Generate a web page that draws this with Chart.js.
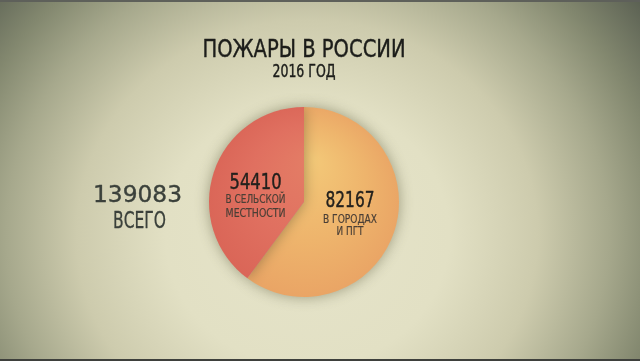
<!DOCTYPE html>
<html>
<head>
<meta charset="utf-8">
<script src="https://cdn.jsdelivr.net/npm/chart.js@4"></script>
<style>
  html, body { margin: 0; padding: 0; }
  body {
    width: 640px; height: 361px; overflow: hidden; position: relative;
    background: radial-gradient(ellipse 355px 330px at 48% 65%, #e6e4ca 0%, #e2e0c4 40%, #cdcbad 65%, #a6a88c 85%, #83886f 100%, #5a6052 118%, #454b42 135%);
  }
  #wrap { position: absolute; left: 0; top: 0; width: 640px; height: 361px; }
  .edge { position: absolute; left: 0; width: 640px; height: 2px; }
</style>
</head>
<body>
<div id="wrap"><canvas id="c" width="640" height="361"></canvas></div>
<div class="edge" style="top:0; background:#5e605a"></div>
<div class="edge" style="bottom:0; background:#3e403c"></div>
<script>
const titleText = 'ПОЖАРЫ В РОССИИ';
const subtitleText = '2016 ГОД';
const categories = ['В ГОРОДАХ И ПГТ', 'В СЕЛЬСКОЙ МЕСТНОСТИ'];
const labelLines = [['В ГОРОДАХ', 'И ПГТ'], ['В СЕЛЬСКОЙ', 'МЕСТНОСТИ']];
const values = [82167, 54410];
const totalValue = 139083;
const totalLabel = 'ВСЕГО';

const FONT = '"DejaVu Sans Condensed", "Liberation Sans Narrow", "DejaVu Sans", sans-serif';

function drawFit(ctx, text, cx, baseline, size, width, color, stroke) {
  ctx.save();
  ctx.font = size + 'px ' + FONT;
  const w = ctx.measureText(text).width;
  const s = width / w;
  ctx.translate(cx, baseline);
  ctx.scale(s, 1);
  ctx.fillStyle = color;
  ctx.textAlign = 'center';
  ctx.textBaseline = 'alphabetic';
  ctx.fillText(text, 0, 0);
  if (stroke) {
    ctx.strokeStyle = color;
    ctx.lineWidth = stroke;
    ctx.lineJoin = 'round';
    ctx.strokeText(text, 0, 0);
  }
  ctx.restore();
}

const shadowPlugin = {
  id: 'pieShadow',
  beforeDatasetsDraw(chart) {
    const ctx = chart.ctx;
    ctx.save();
    ctx.shadowColor = 'rgba(70,70,40,0.45)';
    ctx.shadowBlur = 14;
  },
  afterDatasetsDraw(chart) {
    chart.ctx.restore();
  }
};

const textPlugin = {
  id: 'texts',
  afterDraw(chart) {
    const ctx = chart.ctx;
    const arcs = chart.getDatasetMeta(0).data;
    const cx = arcs[0].x, cy = arcs[0].y, r = arcs[0].outerRadius;
    // title
    drawFit(ctx, titleText, cx, 56.5, 24, 203, '#1c1d1a', 0.4);
    drawFit(ctx, subtitleText, cx, 76.5, 17, 63, '#1c1d1a', 0.4);
    // total
    drawFit(ctx, String(totalValue), 137.5, 201.5, 23.5, 89, '#3b413b', 0.35);
    drawFit(ctx, totalLabel, 139.5, 228, 23.5, 53, '#3b413b', 0.3);
    // slice labels
    const pos = [
      { x: cx + 0.484 * r, nb: cy + 5, l1: cy + 21, l2: cy + 33, nw: 49, w1: 54, w2: 27 },
      { x: cx - 0.51 * r, nb: cy - 13, l1: cy + 1, l2: cy + 14.5, nw: 52, w1: 60, w2: 60 }
    ];
    values.forEach((v, i) => {
      const p = pos[i];
      drawFit(ctx, String(v), p.x, p.nb, 20.5, p.nw, '#23211d', 0.4);
      drawFit(ctx, labelLines[i][0], p.x, p.l1, 12.5, p.w1, '#4a3f36', 0.2);
      drawFit(ctx, labelLines[i][1], p.x, p.l2, 12.5, p.w2, '#4a3f36', 0.2);
    });
  }
};

function sliceColor(context) {
  const chart = context.chart;
  const area = chart.chartArea;
  if (!area) return context.dataIndex === 0 ? '#eeb06a' : '#e06c5c';
  const cx = (area.left + area.right) / 2, cy = (area.top + area.bottom) / 2;
  const r = Math.min(area.right - area.left, area.bottom - area.top) / 2;
  const g = chart.ctx.createRadialGradient(cx + 0.1 * r, cy - 0.45 * r, 0, cx, cy, r * 1.1);
  if (context.dataIndex === 0) {
    g.addColorStop(0, '#f3c878');
    g.addColorStop(0.55, '#eeb46c');
    g.addColorStop(1, '#e9a264');
  } else {
    g.addColorStop(0, '#e47e66');
    g.addColorStop(0.55, '#e07060');
    g.addColorStop(1, '#d96456');
  }
  return g;
}

new Chart(document.getElementById('c'), {
  type: 'pie',
  data: {
    labels: categories,
    datasets: [{
      data: values,
      backgroundColor: sliceColor,
      borderWidth: 0
    }]
  },
  options: {
    responsive: false,
    maintainAspectRatio: false,
    animation: false,
    layout: { padding: { left: 209, right: 241, top: 107, bottom: 64 } },
    plugins: {
      legend: { display: false },
      tooltip: { enabled: false },
      title: { display: false }
    }
  },
  plugins: [shadowPlugin, textPlugin]
});
</script>
</body>
</html>
